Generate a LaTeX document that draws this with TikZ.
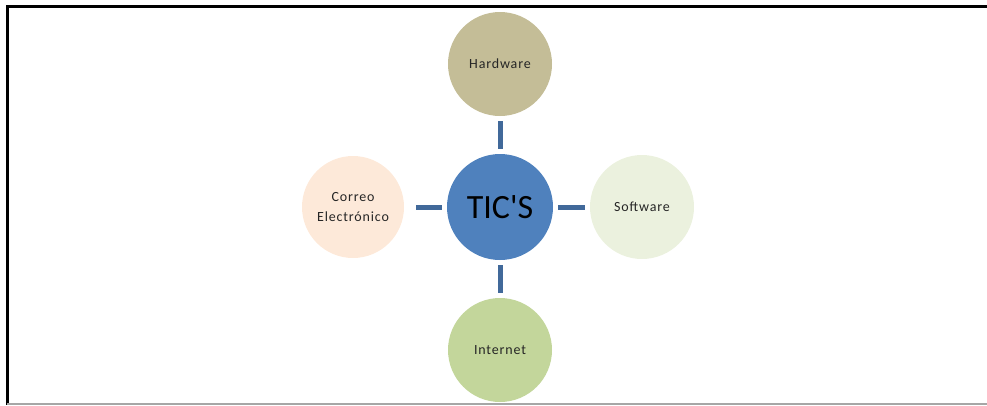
\documentclass[tikz,border=0pt]{standalone}
\usepackage{fontspec}
\setmainfont{Carlito}
\newfontfamily\labelfont[LetterSpace=6]{Carlito}
\definecolor{hw}{HTML}{C4BD97}
\definecolor{tic}{HTML}{4F81BD}
\definecolor{co}{HTML}{FDE9D9}
\definecolor{sw}{HTML}{EBF1DE}
\definecolor{inet}{HTML}{C3D69B}
\definecolor{link}{HTML}{41699A}
\begin{document}
\begin{tikzpicture}[x=1pt,y=-1pt,
  bubble/.style={circle,inner sep=0pt,minimum size=104pt,font=\labelfont\fontsize{14}{20}\selectfont,align=center,text=black!85},
  conn/.style={draw=link,line width=5pt}]
\useasboundingbox (0,0) rectangle (987,405);
\draw[line width=3pt,black] (987,6) -- (7,6) -- (7,405);
\draw[line width=2pt,black!35] (7,404) -- (987,404);
\node[bubble,fill=tic,minimum size=106pt,font=\fontsize{34}{40}\selectfont,text=black] (c) at (500,207) {TIC\textquotesingle S};
\node[bubble,fill=hw] (h) at (500,64) {Hardware};
\node[bubble,fill=sw] (s) at (642,207) {Software};
\node[bubble,fill=inet] (i) at (500,350) {Internet};
\node[bubble,fill=co,minimum size=102pt] (e) at (353,207) {Correo\\Electrónico};
\draw[conn] ([yshift=-5pt]h.south) -- ([yshift=5pt]c.north);
\draw[conn] ([yshift=-5pt]c.south) -- ([yshift=5pt]i.north);
\draw[conn] ([xshift=5pt]c.east) -- ([xshift=-5pt]s.west);
\draw[conn] ([xshift=-5pt]c.west) -- ([xshift=12pt]e.east);
\end{tikzpicture}
\end{document}
